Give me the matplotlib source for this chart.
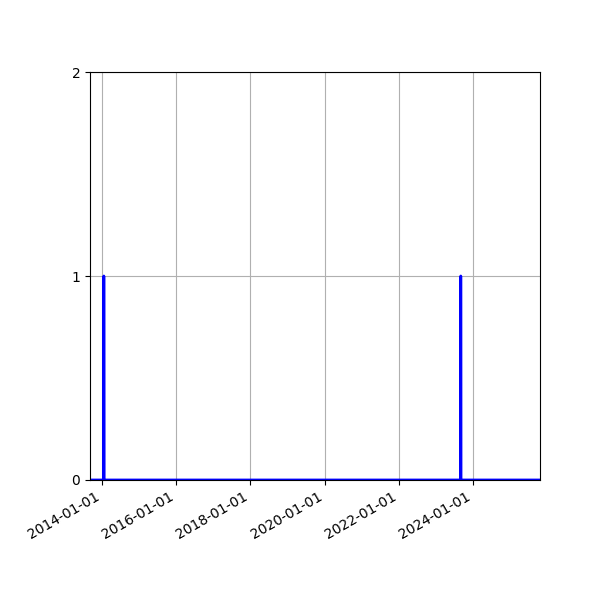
import pandas as pd
import matplotlib
matplotlib.use("Agg")
import matplotlib.pyplot as plt
import matplotlib.dates as mdates

start_date = "2013-09-08"
end_date = "2025-10-19"
event_dates = ["2014-01-22", "2023-09-01"]
event_counts = [1, 1]

days = pd.date_range(start_date, end_date, freq="D")
counts = pd.Series(0, index=days)
for d, c in zip(event_dates, event_counts):
    counts[pd.Timestamp(d)] = c

fig, ax = plt.subplots(figsize=(6, 6), dpi=100)
ax.plot(counts.index, counts.values, color="blue", linewidth=2)
ax.set_xlim(days[0], days[-1])
ax.set_ylim(0, 2)
ax.set_yticks([0, 1, 2])
ax.xaxis.set_major_locator(mdates.YearLocator(2))
ax.xaxis.set_major_formatter(mdates.DateFormatter("%Y-%m-%d"))
ax.grid(True)
fig.autofmt_xdate()
fig.subplots_adjust(left=0.15, right=0.9, top=0.88, bottom=0.2)
fig.savefig("out.png")
